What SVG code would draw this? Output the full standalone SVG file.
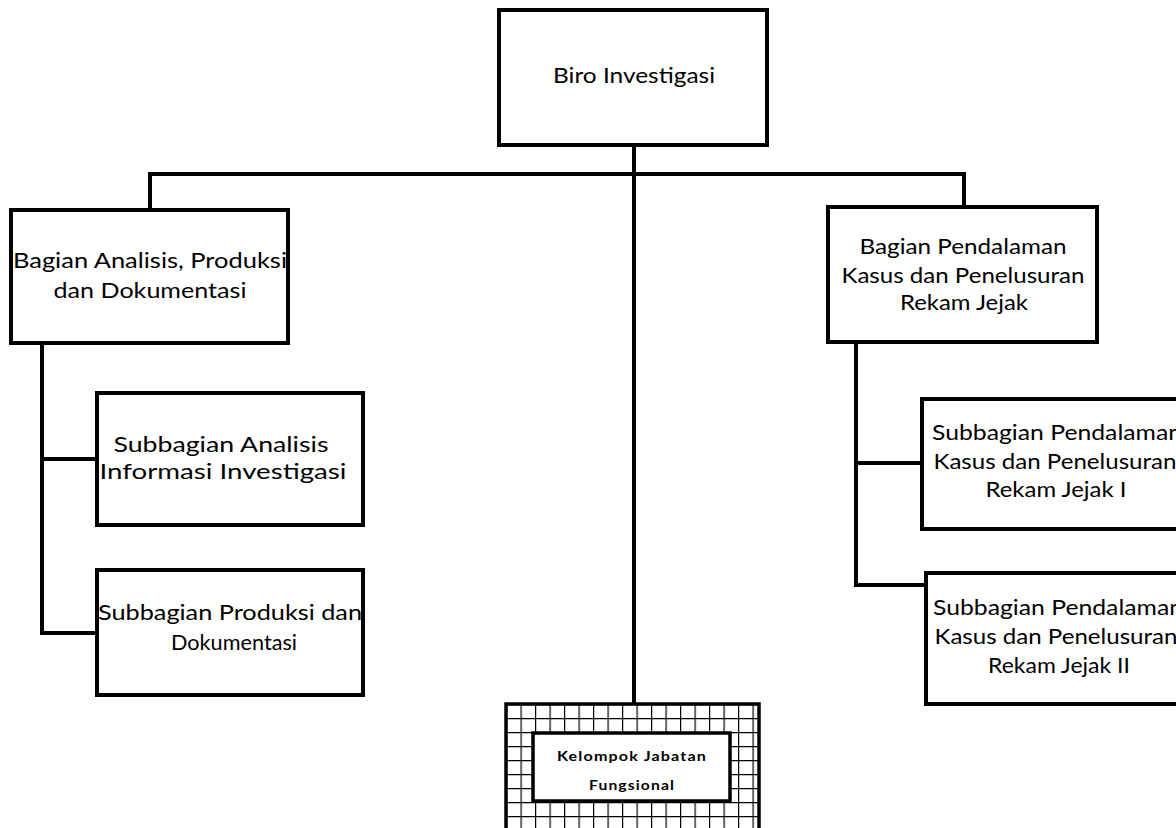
<svg xmlns="http://www.w3.org/2000/svg" width="1176" height="828" viewBox="0 0 1176 828">
  <style>
    .box { fill: #ffffff; stroke: #000000; stroke-width: 4; }
    .conn { fill: none; stroke: #000000; stroke-width: 4; stroke-linecap: square; }
    .lbl { font-family: Lato, "Open Sans", "Liberation Sans", sans-serif; font-size: 21px; fill: #000000; text-anchor: middle; }
    .small { font-family: Lato, "Open Sans", "Liberation Sans", sans-serif; font-size: 14px; fill: #000000; text-anchor: middle; font-weight: 700; letter-spacing: 1px; }
  </style>
  <defs>
    <pattern id="grid" patternUnits="userSpaceOnUse" x="506" y="704" width="14.5" height="14">
      <rect width="14.5" height="14" fill="#ffffff"/>
      <path d="M0 0 V14 M0 0 H14.5" stroke="#000000" stroke-width="2.4" fill="none"/>
    </pattern>
  </defs>
  <rect width="1176" height="828" fill="#ffffff"/>

  <!-- connectors -->
  <g id="connectors">
    <path class="conn" d="M634 145 V703"/>
    <path class="conn" d="M150 210 V174 H964 V207"/>
    <path class="conn" d="M42 343 V633 H97 M42 459 H97"/>
    <path class="conn" d="M856 342 V585 H926 M856 463 H922"/>
  </g>

  <g id="biro-investigasi">
    <rect class="box" x="499" y="10" width="268" height="135"/>
    <text class="lbl" x="634" y="83" textLength="162" lengthAdjust="spacingAndGlyphs">Biro Investigasi</text>
  </g>

  <g id="bagian-analisis">
    <rect class="box" x="11" y="210" width="277" height="133"/>
    <text class="lbl" x="150" y="268" textLength="274" lengthAdjust="spacingAndGlyphs">Bagian Analisis, Produksi</text>
    <text class="lbl" x="150" y="298" textLength="193" lengthAdjust="spacingAndGlyphs">dan Dokumentasi</text>
  </g>

  <g id="bagian-pendalaman">
    <rect class="box" x="828" y="207" width="269" height="135"/>
    <text class="lbl" x="963" y="254" textLength="207" lengthAdjust="spacingAndGlyphs">Bagian Pendalaman</text>
    <text class="lbl" x="963" y="283" textLength="243" lengthAdjust="spacingAndGlyphs">Kasus dan Penelusuran</text>
    <text class="lbl" x="964" y="310" textLength="128" lengthAdjust="spacingAndGlyphs">Rekam Jejak</text>
  </g>

  <g id="subbagian-analisis">
    <rect class="box" x="97" y="393" width="266" height="132"/>
    <text class="lbl" x="221" y="452" textLength="215" lengthAdjust="spacingAndGlyphs">Subbagian Analisis</text>
    <text class="lbl" x="223" y="479" textLength="247" lengthAdjust="spacingAndGlyphs">Informasi Investigasi</text>
  </g>

  <g id="subbagian-produksi">
    <rect class="box" x="97" y="570" width="266" height="125"/>
    <text class="lbl" x="230" y="620" textLength="264" lengthAdjust="spacingAndGlyphs">Subbagian Produksi dan</text>
    <text class="lbl" x="234" y="650" textLength="126" lengthAdjust="spacingAndGlyphs">Dokumentasi</text>
  </g>

  <g id="subbagian-pendalaman-1">
    <rect class="box" x="922" y="399" width="270" height="130"/>
    <text class="lbl" x="1057" y="440" textLength="250" lengthAdjust="spacingAndGlyphs">Subbagian Pendalaman</text>
    <text class="lbl" x="1055" y="469" textLength="243" lengthAdjust="spacingAndGlyphs">Kasus dan Penelusuran</text>
    <text class="lbl" x="1056" y="497" textLength="141" lengthAdjust="spacingAndGlyphs">Rekam Jejak I</text>
  </g>

  <g id="subbagian-pendalaman-2">
    <rect class="box" x="926" y="573" width="266" height="131"/>
    <text class="lbl" x="1058" y="615" textLength="250" lengthAdjust="spacingAndGlyphs">Subbagian Pendalaman</text>
    <text class="lbl" x="1056" y="644" textLength="243" lengthAdjust="spacingAndGlyphs">Kasus dan Penelusuran</text>
    <text class="lbl" x="1059" y="673" textLength="142" lengthAdjust="spacingAndGlyphs">Rekam Jejak II</text>
  </g>

  <g id="kelompok-jabatan-fungsional">
    <rect x="506" y="704" width="253" height="140" fill="url(#grid)" stroke="#000000" stroke-width="3.5"/>
    <rect x="533" y="733" width="197" height="68" fill="#ffffff" stroke="#000000" stroke-width="3.5"/>
    <text class="small" x="632" y="761" textLength="150" lengthAdjust="spacingAndGlyphs">Kelompok Jabatan</text>
    <text class="small" x="632" y="790" textLength="86" lengthAdjust="spacingAndGlyphs">Fungsional</text>
  </g>
</svg>
